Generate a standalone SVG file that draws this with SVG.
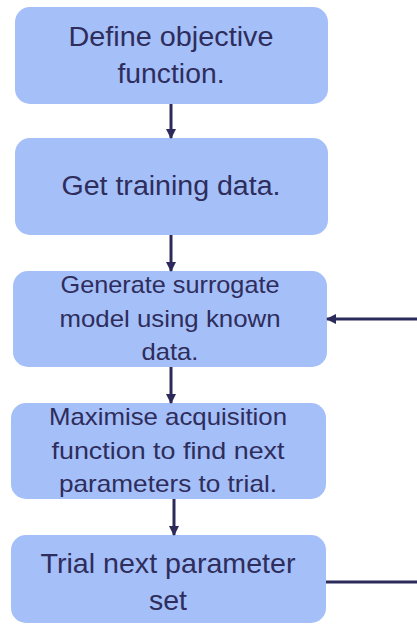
<svg xmlns="http://www.w3.org/2000/svg" width="417" height="625" viewBox="0 0 417 625">
<style>
.box{fill:#a5bff9;}
.t{font-family:"Liberation Sans",Arial,sans-serif;fill:#2e2d5b;text-anchor:middle;}
.con{stroke:#2b2a5a;stroke-width:3;fill:none;}
</style>
<defs>
<marker id="ah" markerUnits="userSpaceOnUse" markerWidth="10" markerHeight="10" refX="9" refY="5" orient="auto">
<path d="M0,0 L10,5 L0,10 z" fill="#2b2a5a"/>
</marker>
</defs>
<rect width="417" height="625" fill="#ffffff"/>
<g id="n1">
<rect class="box" x="15" y="7" width="313" height="97" rx="15"/>
<text class="t" font-size="27" x="171" y="46" textLength="205" lengthAdjust="spacingAndGlyphs">Define objective</text>
<text class="t" font-size="27" x="171" y="83" textLength="107" lengthAdjust="spacingAndGlyphs">function.</text>
</g>
<g id="n2">
<rect class="box" x="15" y="138" width="313" height="97" rx="15"/>
<text class="t" font-size="27" x="171" y="195" textLength="219" lengthAdjust="spacingAndGlyphs">Get training data.</text>
</g>
<g id="n3">
<rect class="box" x="13" y="271" width="314" height="96" rx="15"/>
<text class="t" font-size="24" x="170" y="293" textLength="219" lengthAdjust="spacingAndGlyphs">Generate surrogate</text>
<text class="t" font-size="24" x="170" y="327" textLength="221" lengthAdjust="spacingAndGlyphs">model using known</text>
<text class="t" font-size="24" x="170" y="360" textLength="57" lengthAdjust="spacingAndGlyphs">data.</text>
</g>
<g id="n4">
<rect class="box" x="11" y="403" width="315" height="96" rx="15"/>
<text class="t" font-size="24" x="168" y="425" textLength="238" lengthAdjust="spacingAndGlyphs">Maximise acquisition</text>
<text class="t" font-size="24" x="168" y="459" textLength="233" lengthAdjust="spacingAndGlyphs">function to find next</text>
<text class="t" font-size="24" x="168" y="492" textLength="218" lengthAdjust="spacingAndGlyphs">parameters to trial.</text>
</g>
<g id="n5">
<rect class="box" x="11" y="535" width="315" height="88" rx="15"/>
<text class="t" font-size="28" x="168" y="573" textLength="255" lengthAdjust="spacingAndGlyphs">Trial next parameter</text>
<text class="t" font-size="28" x="168" y="610" textLength="38" lengthAdjust="spacingAndGlyphs">set</text>
</g>
<g id="connectors">
<line class="con" x1="171" y1="104" x2="171" y2="138" marker-end="url(#ah)"/>
<line class="con" x1="171" y1="235" x2="171" y2="271" marker-end="url(#ah)"/>
<line class="con" x1="171" y1="367" x2="171" y2="403" marker-end="url(#ah)"/>
<line class="con" x1="174" y1="499" x2="174" y2="535" marker-end="url(#ah)"/>
<path class="con" d="M326,582 H425 V319 H327" marker-end="url(#ah)"/>
</g>
</svg>
